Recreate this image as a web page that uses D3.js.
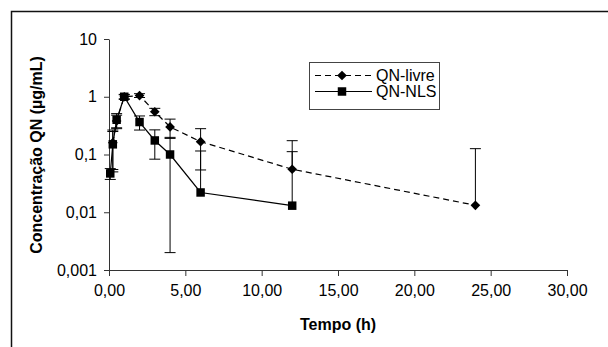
<!DOCTYPE html>
<html>
<head>
<meta charset="utf-8">
<script src="https://cdn.jsdelivr.net/npm/d3@7"></script>
<style>
  body { margin: 0; background: #fff; }
  text { font-family: "Liberation Sans", Arial, sans-serif; fill: #000; }
</style>
</head>
<body>
<script>
// data
const livreTimes = [0.25, 0.5, 1, 2, 3, 4, 6, 12, 24];
const livreValues = [0.16, 0.38, 1.0, 1.05, 0.55, 0.30, 0.167, 0.0555, 0.0132];
const livreErrors = [0.105, 0.1, 0.08, 0.08, 0.08, 0.11, 0.113, 0.118, 0.113];

const nlsTimes = [0.083, 0.25, 0.5, 1, 2, 3, 4, 6, 12];
const nlsValues = [0.047, 0.15, 0.40, 1.0, 0.365, 0.175, 0.10, 0.022, 0.013];
const nlsErrors = [0.01, 0.1, 0.11, 0.1, 0.1, 0.092, 0.098, 0.093, 0.099];

const xTicks = [0, 5, 10, 15, 20, 25, 30];
const yTicks = [0.001, 0.01, 0.1, 1, 10];
const yTickLabels = ["0,001", "0,01", "0,1", "1", "10"];
const seriesNames = ["QN-livre", "QN-NLS"];

const width = 608, height = 347;
const svg = d3.select("body").append("svg")
  .attr("width", width)
  .attr("height", height);

// outer frame (only top/left inside the picture)
svg.append("rect")
  .attr("x", 11.5).attr("y", 11.5)
  .attr("width", 800).attr("height", 600)
  .attr("fill", "none")
  .attr("stroke", "#111")
  .attr("stroke-width", 1.5);

const x = d3.scaleLinear().domain([0, 30]).range([109, 567]);
const y = d3.scaleLog().domain([0.001, 10]).range([270, 39]);

const fmtX = d => d3.format(".2f")(d).replace(".", ",");

// x axis
const gx = svg.append("g")
  .attr("transform", "translate(0,270)")
  .call(d3.axisBottom(x).tickValues(xTicks).tickSize(6).tickSizeOuter(0).tickFormat(fmtX));
gx.select(".domain").attr("stroke", "#333");
gx.selectAll(".tick line").attr("stroke", "#333");
gx.selectAll(".tick text")
  .attr("y", 15)
  .attr("dy", "0.71em")
  .style("font-size", "16px")
  .style("font-family", "Liberation Sans, Arial, sans-serif");

// y axis
const gy = svg.append("g")
  .attr("transform", "translate(109,0)")
  .call(d3.axisLeft(y).tickValues(yTicks).tickSize(5).tickSizeOuter(0)
    .tickFormat((d, i) => yTickLabels[i]));
gy.select(".domain").attr("stroke", "#333");
gy.selectAll(".tick line").attr("stroke", "#333");
gy.selectAll(".tick text")
  .attr("x", -12)
  .style("font-size", "16px")
  .style("font-family", "Liberation Sans, Arial, sans-serif");

// axis titles
svg.append("text")
  .attr("x", 338).attr("y", 330)
  .attr("text-anchor", "middle")
  .style("font-size", "16px")
  .style("font-weight", "bold")
  .text("Tempo (h)");

svg.append("text")
  .attr("transform", "translate(42,155) rotate(-90)")
  .attr("text-anchor", "middle")
  .style("font-size", "16px")
  .style("font-weight", "bold")
  .text("Concentração QN (µg/mL)");

const diamond = d3.symbol().type(d3.symbolDiamond2).size(60);
const square = d3.symbol().type(d3.symbolSquare).size(72);

function drawSeries(times, values, errors, dash, sym) {
  const pts = times.map((t, i) => ({t: t, v: values[i], e: errors[i]}));
  const g = svg.append("g");

  // error bars (lower part dropped when it would be negative on the log axis)
  const eb = g.selectAll(".err").data(pts).enter().append("g")
    .attr("stroke", "#000").attr("stroke-width", 1);
  eb.append("line")
    .attr("x1", d => x(d.t)).attr("x2", d => x(d.t))
    .attr("y1", d => y(d.v + d.e))
    .attr("y2", d => d.v - d.e > 0 ? y(d.v - d.e) : y(d.v));
  eb.append("line")
    .attr("x1", d => x(d.t) - 5.5).attr("x2", d => x(d.t) + 5.5)
    .attr("y1", d => y(d.v + d.e)).attr("y2", d => y(d.v + d.e));
  eb.filter(d => d.v - d.e > 0).append("line")
    .attr("x1", d => x(d.t) - 5.5).attr("x2", d => x(d.t) + 5.5)
    .attr("y1", d => y(d.v - d.e)).attr("y2", d => y(d.v - d.e));

  g.append("path")
    .datum(pts)
    .attr("fill", "none")
    .attr("stroke", "#000")
    .attr("stroke-width", 1.2)
    .attr("stroke-dasharray", dash)
    .attr("d", d3.line().x(d => x(d.t)).y(d => y(d.v)));

  g.selectAll(".mark").data(pts).enter().append("path")
    .attr("transform", d => `translate(${x(d.t)},${y(d.v)})`)
    .attr("d", sym)
    .attr("fill", "#000");
}

drawSeries(livreTimes, livreValues, livreErrors, "6,4", diamond);
drawSeries(nlsTimes, nlsValues, nlsErrors, null, square);

// legend
const legend = svg.append("g");
legend.append("rect")
  .attr("x", 309.5).attr("y", 62.5)
  .attr("width", 130).attr("height", 47)
  .attr("fill", "#fff")
  .attr("stroke", "#444");

const legendRows = [
  {name: seriesNames[0], dash: "6,4", sym: diamond, yy: 75.5},
  {name: seriesNames[1], dash: null, sym: square, yy: 91.5}
];
legendRows.forEach(r => {
  legend.append("line")
    .attr("x1", 315).attr("x2", 372)
    .attr("y1", r.yy).attr("y2", r.yy)
    .attr("stroke", "#000").attr("stroke-width", 1.2)
    .attr("stroke-dasharray", r.dash);
  legend.append("path")
    .attr("transform", `translate(342,${r.yy})`)
    .attr("d", r.sym)
    .attr("fill", "#000");
  legend.append("text")
    .attr("x", 376).attr("y", r.yy)
    .attr("dy", "0.35em")
    .style("font-size", "16px")
    .text(r.name);
});
</script>
</body>
</html>
